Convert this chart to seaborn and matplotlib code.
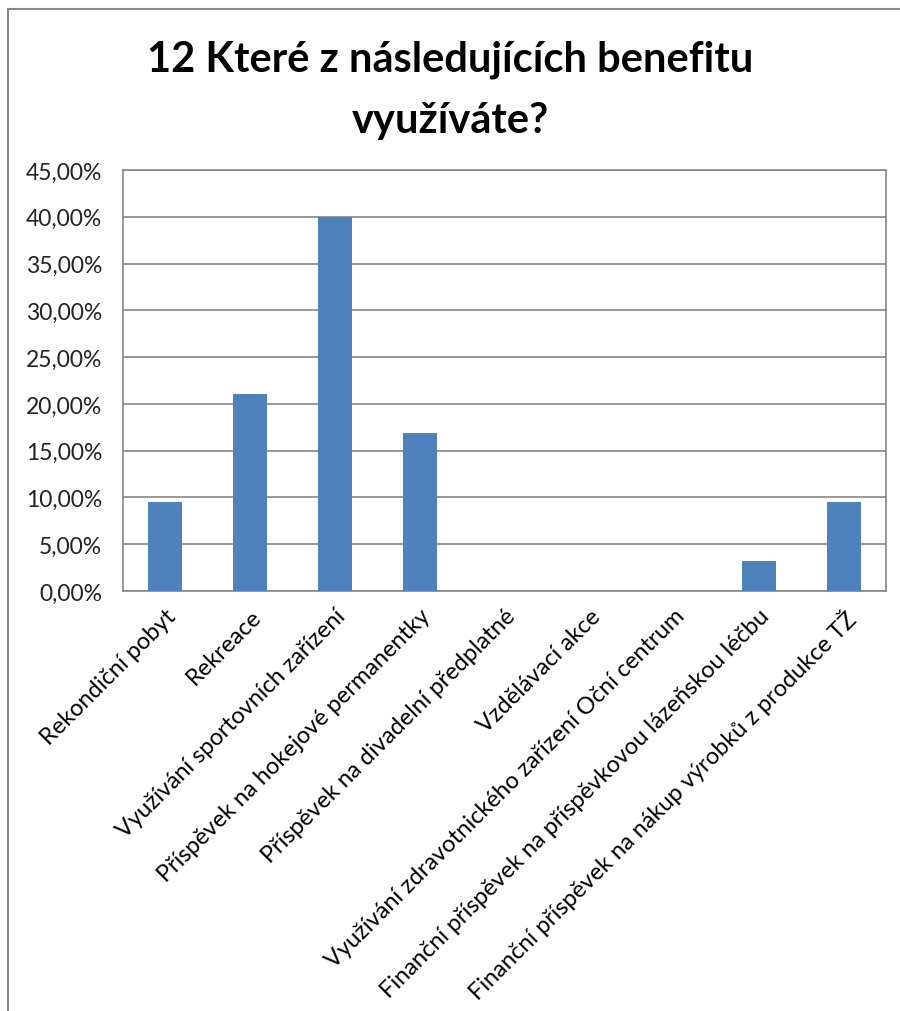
import matplotlib
matplotlib.use("Agg")
import matplotlib.pyplot as plt
import seaborn as sns
import pandas as pd
from matplotlib.ticker import FuncFormatter, MultipleLocator
from matplotlib.lines import Line2D

categories = [
    "Rekondiční pobyt",
    "Rekreace",
    "Využívání sportovních zařízení",
    "Příspěvek na hokejové permanentky",
    "Příspěvek na divadelní předplatné",
    "Vzdělávací akce",
    "Využívání zdravotnického zařízení Oční centrum",
    "Finanční příspěvek na příspěvkovou lázeňskou léčbu",
    "Finanční příspěvek na nákup výrobků z produkce TŽ",
]
values = [9.47, 21.05, 40.0, 16.84, 0.0, 0.0, 0.0, 3.16, 9.47]
title = "12 Které z následujících benefitu\nvyužíváte?"

sns.set_theme(style="white")
plt.rcParams['font.family'] = ['Lato', 'DejaVu Sans']

df = pd.DataFrame({"cat": categories, "val": values})

fig = plt.figure(figsize=(9, 10.12), dpi=100)
ax = fig.add_axes([0.1367, 0.415, 0.9844 - 0.1367, 0.831 - 0.415])

sns.barplot(data=df, x="cat", y="val", color="#4F81BD", width=0.4,
            saturation=1, linewidth=0, ax=ax, zorder=3)

ax.set_ylim(0, 45)
ax.yaxis.set_major_locator(MultipleLocator(5))
ax.yaxis.set_major_formatter(FuncFormatter(lambda v, p: f"{v:.2f}".replace(".", ",") + "%"))
ax.grid(axis="y", color="#868686", linewidth=1.2, zorder=0)
ax.grid(axis="x", visible=False)
for s in ax.spines.values():
    s.set_color("#868686")
    s.set_linewidth(1.2)
ax.set_xlabel("")
ax.set_ylabel("")
ax.tick_params(axis="y", labelsize=16.5, length=0, pad=15)
ax.tick_params(axis="x", length=0, pad=10)
ax.set_xticks(range(len(categories)))
ax.set_xticklabels(categories, rotation=45, ha="right", rotation_mode="anchor",
                   fontsize=17, color="#000000")
for lbl in ax.get_yticklabels():
    lbl.set_color("#222222")

fig.text(0.5, 0.911, title, ha="center", va="center", fontsize=30,
         fontweight="bold", linespacing=1.75, color="#000000")

# outer chart frame
fig.add_artist(Line2D([8/900, 1.0], [1 - 10/1012, 1 - 10/1012], transform=fig.transFigure,
                      color="#868686", linewidth=1.5))
fig.add_artist(Line2D([8/900, 8/900], [0.0, 1 - 10/1012], transform=fig.transFigure,
                      color="#868686", linewidth=1.5))

fig.savefig("out.png", dpi=100, facecolor="white")
